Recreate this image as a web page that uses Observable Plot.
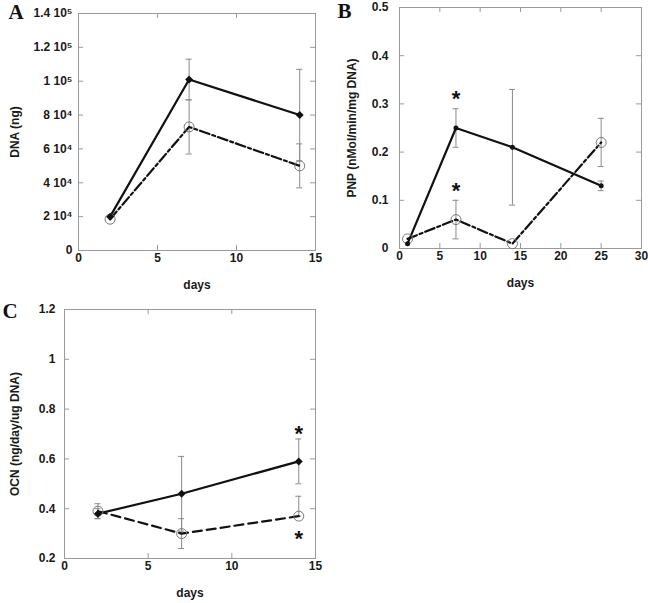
<!DOCTYPE html>
<html><head><meta charset="utf-8">
<script src="https://cdn.jsdelivr.net/npm/d3@7"></script>
<script src="https://cdn.jsdelivr.net/npm/@observablehq/plot@0.6"></script>
<style>
body{margin:0;background:#fff;}
#wrap{position:relative;width:648px;height:603px;overflow:hidden;}
#wrap > svg{position:absolute;}
</style></head><body><div id="wrap"></div>
<script>
// ---------- Panel A: DNA (ng) ----------
const daysA = [2, 7, 14];
const dnaFilled   = [20000, 101000, 80000];
const dnaFilledLo = [20000, 89000, 53000];
const dnaFilledHi = [20000, 113000, 107000];
const dnaOpen     = [18500, 73000, 50000];
const dnaOpenLo   = [18500, 57000, 37000];
const dnaOpenHi   = [18500, 89000, 63000];
const xTicksA = [0, 5, 10, 15];
const yTicksA = [0, 20000, 40000, 60000, 80000, 100000, 120000, 140000];
const yLabelsA = ["0", "2 10⁴", "4 10⁴", "6 10⁴", "8 10⁴", "1 10⁵", "1.2 10⁵", "1.4 10⁵"];

// ---------- Panel B: PNP ----------
const daysB = [1, 7, 14, 25];
const pnpFilled   = [0.01, 0.25, 0.21, 0.13];
const pnpFilledLo = [0.01, 0.21, 0.09, 0.12];
const pnpFilledHi = [0.01, 0.29, 0.33, 0.14];
const pnpOpen     = [0.02, 0.06, 0.01, 0.22];
const pnpOpenLo   = [0.02, 0.02, 0.01, 0.17];
const pnpOpenHi   = [0.02, 0.10, 0.01, 0.27];
const starsBx = [7, 7];
const starsBy = [0.32, 0.13];
const xTicksB = [0, 5, 10, 15, 20, 25, 30];
const yTicksB = [0, 0.1, 0.2, 0.3, 0.4, 0.5];
const yLabelsB = ["0", "0.1", "0.2", "0.3", "0.4", "0.5"];

// ---------- Panel C: OCN ----------
const daysC = [2, 7, 14];
const ocnFilled   = [0.38, 0.46, 0.59];
const ocnFilledLo = [0.36, 0.31, 0.50];
const ocnFilledHi = [0.40, 0.61, 0.68];
const ocnOpen     = [0.39, 0.30, 0.37];
const ocnOpenLo   = [0.36, 0.24, 0.37];
const ocnOpenHi   = [0.42, 0.36, 0.45];
const starsCx = [14, 14];
const starsCy = [0.72, 0.30];
const xTicksC = [0, 5, 10, 15];
const yTicksC = [0.2, 0.4, 0.6, 0.8, 1.0, 1.2];
const yLabelsC = ["0.2", "0.4", "0.6", "0.8", "1", "1.2"];

const GRAY = "#9a9a9a";
const FONT = "'Liberation Sans', Arial, Helvetica, sans-serif";

function rows(days, v, lo, hi) {
  return days.map((d, i) => ({x: d, y: v[i], lo: lo[i], hi: hi[i]}));
}

function panel(cfg) {
  const {left, top, width, height, m, xDomain, yDomain, xTicks, yTicks, yLabels,
         filled, open, filledSymbol, filledR, openDash, stars, yLabel, letter,
         yPad, yLabelDx, letterDx, letterDy} = cfg;
  const fh = height - m.top - m.bottom;
  const fw = width - m.left - m.right;
  const fmt = new Map(yTicks.map((v, i) => [v, yLabels[i]]));
  const bars = [...filled, ...open].filter(d => d.hi > d.lo);
  const svg = Plot.plot({
    width, height,
    marginLeft: m.left, marginRight: m.right, marginTop: m.top, marginBottom: m.bottom,
    style: {fontFamily: FONT, fontSize: "12px", fontWeight: "bold", color: "#1a1a1a", background: "white", overflow: "visible"},
    x: {domain: xDomain, ticks: xTicks, tickSize: 0, tickPadding: 3, label: null, tickFormat: d => String(d)},
    y: {domain: yDomain, ticks: yTicks, tickSize: 0, tickPadding: yPad, label: null, tickFormat: d => fmt.get(d)},
    marks: [
      Plot.frame({stroke: GRAY, strokeWidth: 1}),
      // inward ticks on all four sides
      Plot.ruleX(xTicks.slice(1, -1), {stroke: GRAY, insetTop: fh - 5}),
      Plot.ruleX(xTicks.slice(1, -1), {stroke: GRAY, insetBottom: fh - 5}),
      Plot.ruleY(yTicks.slice(1, -1), {stroke: GRAY, insetRight: fw - 5}),
      Plot.ruleY(yTicks.slice(1, -1), {stroke: GRAY, insetLeft: fw - 5}),
      // error bars
      Plot.ruleX(bars, {x: "x", y1: "lo", y2: "hi", stroke: "#8a8a8a", strokeWidth: 1}),
      Plot.ruleY(bars, {y: "hi", x1: "x", x2: "x", insetLeft: -3, insetRight: -3, stroke: "#8a8a8a", strokeWidth: 1}),
      Plot.ruleY(bars, {y: "lo", x1: "x", x2: "x", insetLeft: -3, insetRight: -3, stroke: "#8a8a8a", strokeWidth: 1}),
      // lines
      Plot.line(open, {x: "x", y: "y", stroke: "#111", strokeWidth: 2.2, strokeDasharray: openDash}),
      Plot.line(filled, {x: "x", y: "y", stroke: "#111", strokeWidth: 2.2}),
      // markers
      Plot.dot(open, {x: "x", y: "y", r: 5, stroke: "#777", strokeWidth: 1, fill: "none"}),
      Plot.dot(filled, {x: "x", y: "y", r: filledR, symbol: filledSymbol, fill: "#111", stroke: "none"}),
      // significance stars
      Plot.text(stars, {x: "x", y: "y", text: () => "*", fontSize: 22, fontWeight: "bold", dy: 5, fill: "#111"}),
      // axis titles
      Plot.text(["days"], {frameAnchor: "bottom", dy: 35, lineAnchor: "middle", textAnchor: "middle"}),
      Plot.text([yLabel], {frameAnchor: "left", rotate: -90, dx: yLabelDx, textAnchor: "middle", lineAnchor: "middle"}),
      Plot.text([letter], {frameAnchor: "top-left", dx: letterDx, dy: letterDy, textAnchor: "start", lineAnchor: "top",
                           fontFamily: "'Liberation Serif', 'Times New Roman', serif", fontSize: 21, fontWeight: "bold", fill: "#111"})
    ]
  });
  svg.style.left = left + "px";
  svg.style.top = top + "px";
  document.getElementById("wrap").appendChild(svg);
}

panel({
  left: 0, top: 0, width: 324, height: 300,
  m: {left: 78, right: 9, top: 13, bottom: 50},
  xDomain: [0, 15], yDomain: [0, 140000], xTicks: xTicksA, yTicks: yTicksA, yLabels: yLabelsA,
  filled: rows(daysA, dnaFilled, dnaFilledLo, dnaFilledHi),
  open: rows(daysA, dnaOpen, dnaOpenLo, dnaOpenHi),
  filledSymbol: "diamond2", filledR: 3.6, openDash: "10,3,3,3",
  stars: [], yLabel: "DNA (ng)", letter: "A", yPad: 6, yLabelDx: -63, letterDx: -70, letterDy: -9
});

panel({
  left: 324, top: 0, width: 324, height: 300,
  m: {left: 75, right: 7, top: 7, bottom: 52},
  xDomain: [0, 30], yDomain: [0, 0.5], xTicks: xTicksB, yTicks: yTicksB, yLabels: yLabelsB,
  filled: rows(daysB, pnpFilled, pnpFilledLo, pnpFilledHi),
  open: rows(daysB, pnpOpen, pnpOpenLo, pnpOpenHi),
  filledSymbol: "circle", filledR: 2.5, openDash: "10,3,3,3",
  stars: starsBx.map((x, i) => ({x, y: starsBy[i]})),
  yLabel: "PNP (nMol/min/mg DNA)", letter: "B", yPad: 11, yLabelDx: -47, letterDx: -62, letterDy: -4
});

panel({
  left: 0, top: 300, width: 324, height: 303,
  m: {left: 64, right: 9, top: 9, bottom: 45},
  xDomain: [0, 15], yDomain: [0.2, 1.2], xTicks: xTicksC, yTicks: yTicksC, yLabels: yLabelsC,
  filled: rows(daysC, ocnFilled, ocnFilledLo, ocnFilledHi),
  open: rows(daysC, ocnOpen, ocnOpenLo, ocnOpenHi),
  filledSymbol: "diamond2", filledR: 3.6, openDash: "9,5",
  stars: starsCx.map((x, i) => ({x, y: starsCy[i]})),
  yLabel: "OCN (ng/day/ug DNA)", letter: "C", yPad: 9, yLabelDx: -49, letterDx: -62, letterDy: -6
});
</script>
</body></html>
